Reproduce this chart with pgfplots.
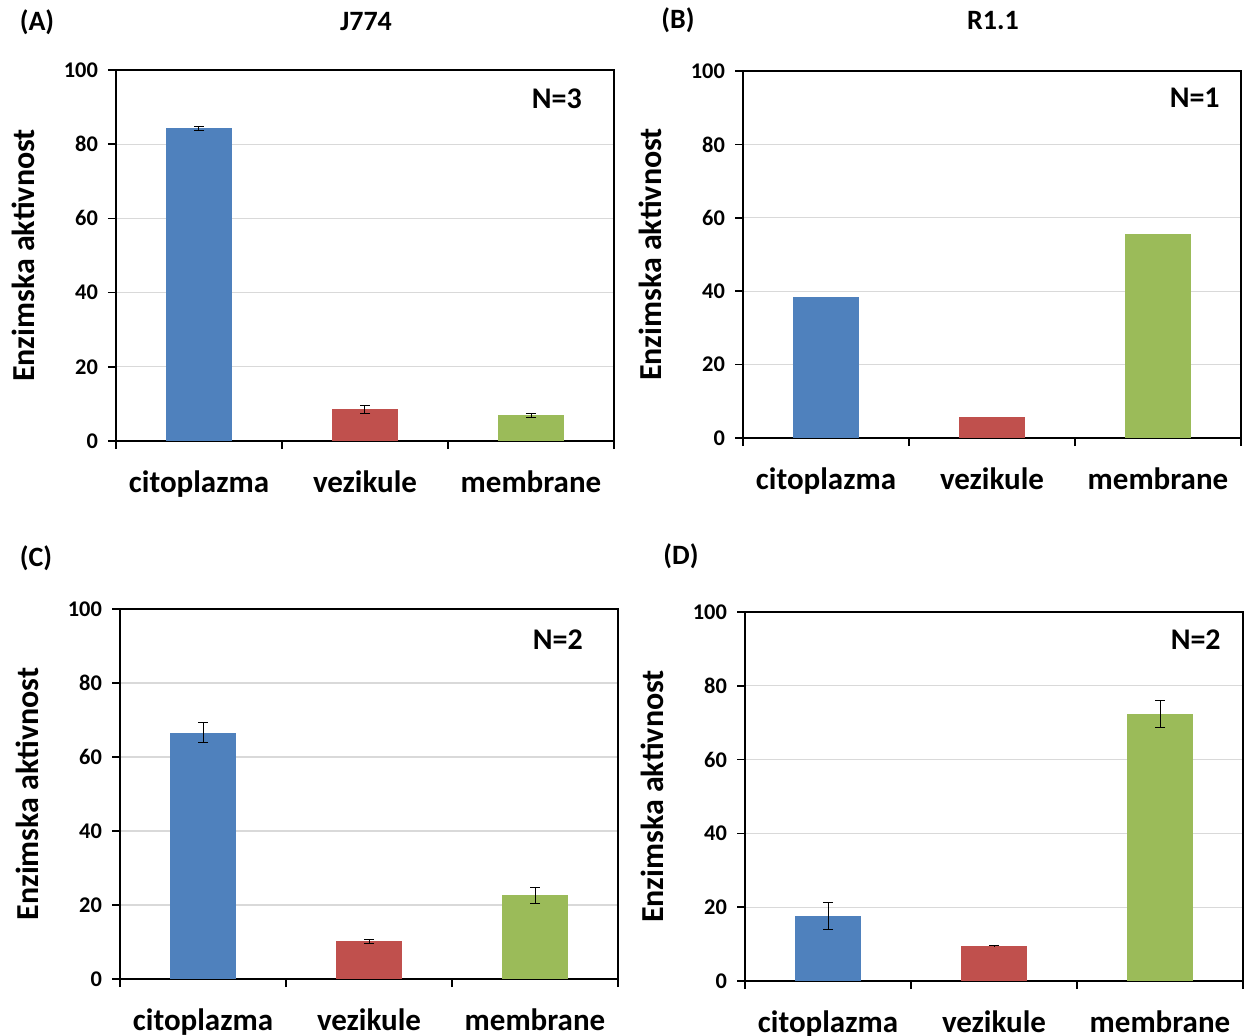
\documentclass[border=0pt]{standalone}
\usepackage{fontspec}
\setmainfont{Carlito}
\usepackage{pgfplots}
\pgfplotsset{compat=1.18}
\definecolor{cblue}{HTML}{4F81BD}
\definecolor{cred}{HTML}{C0504D}
\definecolor{cgreen}{HTML}{9BBB59}
\definecolor{cgrid}{HTML}{D9D9D9}
\tikzset{nlab/.style={font=\fontsize{15}{17}\selectfont\bfseries, inner sep=0pt, anchor=east},
  plab/.style={font=\fontsize{14}{16}\selectfont\bfseries, inner sep=0pt}}
\pgfplotsset{
  panel/.style={
    scale only axis, width=249pt,
    xmin=-0.5, xmax=2.5, ymin=0, ymax=100,
    xtick={-0.5,0.5,1.5,2.5}, xticklabels={},
    extra x ticks={0,1,2}, extra x tick labels={citoplazma,vezikule,membrane},
    extra x tick style={major tick length=0pt, grid=none,
      xticklabel style={font=\fontsize{15.5}{18}\selectfont\bfseries, anchor=base, yshift=-25.5pt}},
    ytick={0,20,40,60,80,100},
    ymajorgrids, major grid style={cgrid, line width=0.6pt},
    axis line style={black, line width=0.8pt},
    tick align=outside, tick pos=left,
    major tick length=4pt,
    every tick/.style={black, line width=0.8pt},
    /pgf/number format/assume math mode=true,
    yticklabel style={font=\fontsize{11.2}{13}\selectfont\bfseries, xshift=-1.5pt},
    ylabel={Enzimska aktivnost},
    ylabel style={font=\fontsize{16}{19}\selectfont\bfseries, at={(axis description cs:-0.187,0.5)}, anchor=center},
  },
  bar/.style={ybar, bar width=33pt, bar shift=0pt, draw=none, fill=#1},
  eb/.style={error bars/.cd, y dir=both, y explicit,
    error bar style={black, line width=0.5pt},
    error mark options={black, mark size=2.5pt, line width=0.5pt, rotate=90}},
}
\begin{document}
\begin{tikzpicture}
\path[use as bounding box] (0,0) rectangle (623pt,-517.5pt);
\node[plab] at (18.5pt,-11pt) {(A)};
\node[plab] at (339pt,-10pt) {(B)};
\node[plab] at (18pt,-279pt) {(C)};
\node[plab] at (340.5pt,-278pt) {(D)};
\node[plab] at (183pt,-11pt) {J774};
\node[plab] at (496.5pt,-10pt) {R1.1};

% (A)
\begin{axis}[panel, height=185.5pt, at={(58pt,-220.5pt)}, anchor=south west]
\addplot[bar=cblue, eb] coordinates {(0,84.3) +- (0,0.5)};
\addplot[bar=cred, eb] coordinates {(1,8.5) +- (0,1.2)};
\addplot[bar=cgreen, eb] coordinates {(2,6.9) +- (0,0.6)};
\node[nlab] at (axis description cs:0.936,0.922) {N=3};
\end{axis}

% (B)
\begin{axis}[panel, height=183.5pt, at={(371.5pt,-219pt)}, anchor=south west]
\addplot[bar=cblue] coordinates {(0,38.3)};
\addplot[bar=cred] coordinates {(1,5.6)};
\addplot[bar=cgreen] coordinates {(2,55.5)};
\node[nlab] at (axis description cs:0.958,0.927) {N=1};
\end{axis}

% (C)
\begin{axis}[panel, height=185pt, at={(60pt,-489.5pt)}, anchor=south west]
\addplot[bar=cblue, eb] coordinates {(0,66.6) +- (0,2.7)};
\addplot[bar=cred, eb] coordinates {(1,10.2) +- (0,0.5)};
\addplot[bar=cgreen, eb] coordinates {(2,22.6) +- (0,2.25)};
\node[nlab] at (axis description cs:0.93,0.916) {N=2};
\end{axis}

% (D)
\begin{axis}[panel, height=184.5pt, at={(372.5pt,-490.5pt)}, anchor=south west]
\addplot[bar=cblue, eb] coordinates {(0,17.7) +- (0,3.7)};
\addplot[bar=cred, eb] coordinates {(1,9.6) +- (0,0.1)};
\addplot[bar=cgreen, eb] coordinates {(2,72.4) +- (0,3.7)};
\node[nlab] at (axis description cs:0.956,0.924) {N=2};
\end{axis}
\end{tikzpicture}
\end{document}
